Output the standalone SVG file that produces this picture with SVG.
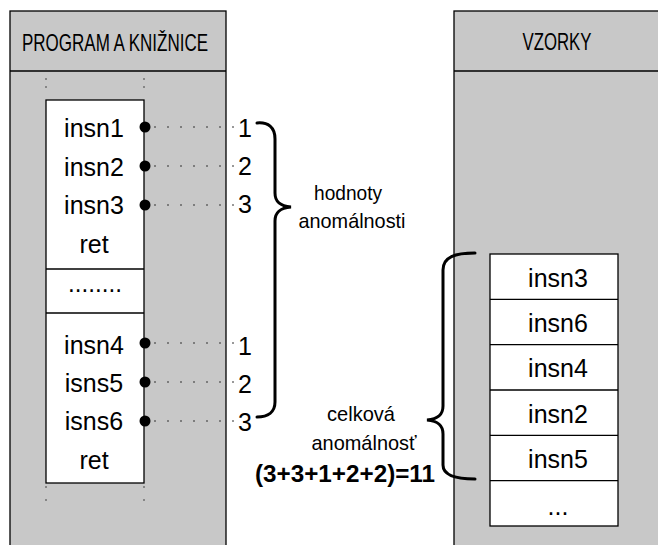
<svg xmlns="http://www.w3.org/2000/svg" width="658" height="545" viewBox="0 0 658 545">
  <defs>
    <style>
      .panel { fill: #c8c8c8; stroke: #000; stroke-width: 1.3; }
      .box { fill: #fff; stroke: #000; stroke-width: 1.3; }
      .hdr { font-family: "Liberation Sans", Arial, sans-serif; font-size: 24px; fill: #000; text-anchor: middle; }
      .code { font-family: "Liberation Sans", Arial, sans-serif; font-size: 25px; fill: #000; text-anchor: middle; }
      .num { font-family: "Liberation Sans", Arial, sans-serif; font-size: 25px; fill: #000; }
      .lbl { font-family: "Liberation Sans", Arial, sans-serif; font-size: 21px; fill: #000; text-anchor: middle; }
      .sum { font-family: "Liberation Sans", Arial, sans-serif; font-size: 23px; font-weight: bold; fill: #000; text-anchor: middle; }
      .tick { stroke: #444; stroke-width: 1; stroke-dasharray: 2 6; fill: none; }
      .lead { stroke: #333; stroke-width: 1; stroke-dasharray: 2 11; fill: none; }
      .brace { stroke: #000; stroke-width: 3; fill: none; stroke-linecap: round; }
      .pin { fill: #000; }
    </style>
  </defs>

  <!-- left panel: program and libraries -->
  <g id="panel-program">
    <rect class="panel" x="10" y="11" width="216" height="545"/>
    <line x1="10" y1="71" x2="226" y2="71" stroke="#000" stroke-width="1.3"/>
    <text class="hdr" x="115" y="51" textLength="186" lengthAdjust="spacingAndGlyphs">PROGRAM A KNIŽNICE</text>
    <line class="tick" x1="46" y1="78" x2="46" y2="92"/>
    <line class="tick" x1="144" y1="78" x2="144" y2="92"/>
    <line class="tick" x1="46" y1="486" x2="46" y2="512" style="stroke-dasharray:2 11"/>
    <line class="tick" x1="144" y1="486" x2="144" y2="512" style="stroke-dasharray:2 11"/>
  </g>

  <!-- code block -->
  <g id="code-block">
    <rect class="box" x="46" y="100" width="98" height="383"/>
    <line x1="46" y1="269" x2="144" y2="269" stroke="#000" stroke-width="1.3"/>
    <line x1="46" y1="313" x2="144" y2="313" stroke="#000" stroke-width="1.3"/>
    <text class="code" x="94" y="137">insn1</text>
    <text class="code" x="94" y="176">insn2</text>
    <text class="code" x="94" y="214">insn3</text>
    <text class="code" x="94" y="253">ret</text>
    <text class="code" x="95" y="292" textLength="54" lengthAdjust="spacingAndGlyphs">........</text>
    <text class="code" x="94" y="354">insn4</text>
    <text class="code" x="94" y="392">isns5</text>
    <text class="code" x="94" y="430">isns6</text>
    <text class="code" x="94" y="469">ret</text>
  </g>

  <!-- right panel: samples -->
  <g id="panel-samples">
    <rect class="panel" x="454" y="11" width="220" height="545"/>
    <line x1="454" y1="71" x2="674" y2="71" stroke="#000" stroke-width="1.3"/>
    <text class="hdr" x="557" y="50" textLength="69" lengthAdjust="spacingAndGlyphs">VZORKY</text>
  </g>

  <!-- sample table -->
  <g id="sample-table">
    <rect class="box" x="490" y="254" width="128" height="272"/>
    <line x1="490" y1="299.3" x2="618" y2="299.3" stroke="#000" stroke-width="1.3"/>
    <line x1="490" y1="344.7" x2="618" y2="344.7" stroke="#000" stroke-width="1.3"/>
    <line x1="490" y1="390" x2="618" y2="390" stroke="#000" stroke-width="1.3"/>
    <line x1="490" y1="435.3" x2="618" y2="435.3" stroke="#000" stroke-width="1.3"/>
    <line x1="490" y1="480.7" x2="618" y2="480.7" stroke="#000" stroke-width="1.3"/>
    <text class="code" x="558" y="287">insn3</text>
    <text class="code" x="558" y="332">insn6</text>
    <text class="code" x="558" y="377">insn4</text>
    <text class="code" x="558" y="423">insn2</text>
    <text class="code" x="558" y="468">insn5</text>
    <text class="code" x="558" y="515">...</text>
  </g>

  <!-- anomaly scores -->
  <g id="scores">
    <text class="num" x="238" y="137">1</text>
    <text class="num" x="238" y="175">2</text>
    <text class="num" x="238" y="213">3</text>
    <text class="num" x="238" y="355">1</text>
    <text class="num" x="238" y="393">2</text>
    <text class="num" x="238" y="431">3</text>
  </g>

  <g id="label-scores">
    <text class="lbl" x="348" y="200" textLength="68" lengthAdjust="spacingAndGlyphs">hodnoty</text>
    <text class="lbl" x="352" y="228" textLength="107" lengthAdjust="spacingAndGlyphs">anomálnosti</text>
  </g>

  <g id="label-total">
    <text class="lbl" x="361" y="421" textLength="68" lengthAdjust="spacingAndGlyphs">celková</text>
    <text class="lbl" x="364" y="450" textLength="105" lengthAdjust="spacingAndGlyphs">anomálnosť</text>
    <text class="sum" x="345" y="482" textLength="180" lengthAdjust="spacingAndGlyphs">(3+3+1+2+2)=11</text>
  </g>

  <!-- connectors: instruction pins, leaders and braces -->
  <g id="connectors">
    <line class="lead" x1="154" y1="127" x2="235" y2="127"/>
    <line class="lead" x1="154" y1="166" x2="235" y2="166"/>
    <line class="lead" x1="154" y1="205" x2="235" y2="205"/>
    <line class="lead" x1="154" y1="343" x2="235" y2="343"/>
    <line class="lead" x1="154" y1="382" x2="235" y2="382"/>
    <line class="lead" x1="154" y1="421" x2="235" y2="421"/>
    <circle class="pin" cx="145" cy="127" r="5.5"/>
    <circle class="pin" cx="145" cy="166" r="5.5"/>
    <circle class="pin" cx="145" cy="205" r="5.5"/>
    <circle class="pin" cx="145" cy="343" r="5.5"/>
    <circle class="pin" cx="145" cy="382" r="5.5"/>
    <circle class="pin" cx="145" cy="421" r="5.5"/>
    <path class="brace" d="M257,123 C268,122 275,127 275,139 L275,193 C275,202 280,206 291,207 C280,208 275,212 275,221 L275,402 C275,412 268,417 257,417"/>
    <path class="brace" d="M475,253 C455,253 443,257 443,270 L443,406 C443,415 438,419 427,420 C438,421 443,425 443,434 L443,465 C443,475 455,479 475,479"/>
  </g>
</svg>
